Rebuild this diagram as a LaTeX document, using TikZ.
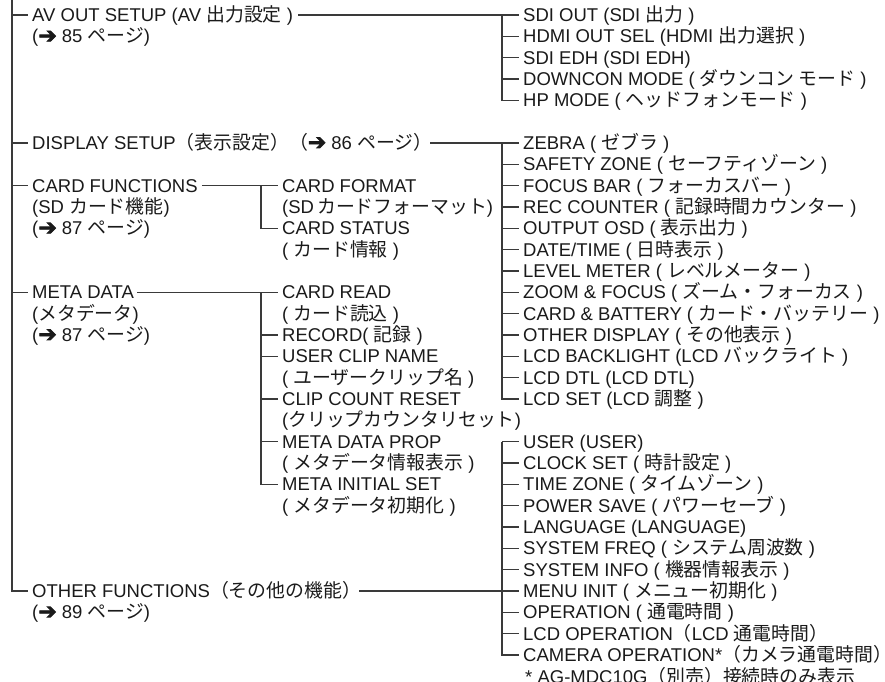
\documentclass[tikz,border=0pt]{standalone}
\usepackage{fontspec}
\setmainfont{Liberation Sans}
\newfontfamily\jp[Scale=1.02]{Noto Sans CJK JP}
\newfontfamily\dvb[FakeBold=3]{DejaVu Sans}
\newcommand\arr{{\dvb\fontsize{22}{22}\selectfont ➔}}
\newcommand\jj[1]{{\jp #1}}
\definecolor{ink}{HTML}{1A1A1A}
\definecolor{wire}{HTML}{3A3A3A}
\newcommand\rw[1]{15+21.33*#1}
\begin{document}
\begin{tikzpicture}[x=1pt,y=-1pt,
  lbl/.style={anchor=west,inner sep=0pt,text height=13.3pt,text depth=0pt,
    font=\fontsize{18.5}{21.3}\selectfont,text=ink},
  ln/.style={draw=wire,line width=1.2pt},
  ent/.style={ln,shorten >=4pt}]
\useasboundingbox (0,0) rectangle (885,681);
% ---------- left column ----------
\node[lbl] (av)  at (32,{\rw{0}}) {AV OUT SETUP (AV \jj{出力設定} )};
\node[lbl] (av2) at (32,{\rw{1}}) {(\arr{} 85 \jj{ページ})};
\node[lbl] (ds)  at (32,{\rw{6}}) {DISPLAY SETUP\jj{（表示設定）（}\arr{} 86 \jj{ページ）}};
\node[lbl] (cf)  at (32,{\rw{8}}) {CARD FUNCTIONS};
\node[lbl] (cf2) at (32,{\rw{9}}) {(SD \jj{カード機能})};
\node[lbl] (cf3) at (32,{\rw{10}}) {(\arr{} 87 \jj{ページ})};
\node[lbl] (md)  at (32,{\rw{13}}) {META DATA};
\node[lbl] (md2) at (32,{\rw{14}}) {(\jj{メタデータ})};
\node[lbl] (md3) at (32,{\rw{15}}) {(\arr{} 87 \jj{ページ})};
\node[lbl] (of)  at (32,{\rw{27}}) {OTHER FUNCTIONS\jj{（その他の機能）}};
\node[lbl] (of2) at (32,{\rw{28}}) {(\arr{} 89 \jj{ページ})};
% ---------- card / meta subtrees ----------
\node[lbl] (c1)  at (282,{\rw{8}})  {CARD FORMAT};
\node[lbl] (c1b) at (282,{\rw{9}})  {(SD\,\jj{カードフォーマット})};
\node[lbl] (c2)  at (282,{\rw{10}}) {CARD STATUS};
\node[lbl] (c2b) at (282,{\rw{11}}) {( \jj{カード情報} )};
\node[lbl] (m1)  at (282,{\rw{13}}) {CARD READ};
\node[lbl] (m1b) at (282,{\rw{14}}) {( \jj{カード読込} )};
\node[lbl] (m2)  at (282,{\rw{15}}) {RECORD( \jj{記録} )};
\node[lbl] (m3)  at (282,{\rw{16}}) {USER CLIP NAME};
\node[lbl] (m3b) at (282,{\rw{17}}) {( \jj{ユーザークリップ名} )};
\node[lbl] (m4)  at (282,{\rw{18}}) {CLIP COUNT RESET};
\node[lbl] (m4b) at (282,{\rw{19}}) {(\jj{クリップカウンタリセット})};
\node[lbl] (m5)  at (282,{\rw{20}}) {META DATA PROP};
\node[lbl] (m5b) at (282,{\rw{21}}) {( \jj{メタデータ情報表示} )};
\node[lbl] (m6)  at (282,{\rw{22}}) {META INITIAL SET};
\node[lbl] (m6b) at (282,{\rw{23}}) {( \jj{メタデータ初期化} )};
% ---------- right column ----------
\node[lbl] (a1) at (523,{\rw{0}}) {SDI OUT (SDI \jj{出力} )};
\node[lbl] (a2) at (523,{\rw{1}}) {HDMI OUT SEL (HDMI \jj{出力選択} )};
\node[lbl] (a3) at (523,{\rw{2}}) {SDI EDH (SDI EDH)};
\node[lbl] (a4) at (523,{\rw{3}}) {DOWNCON MODE ( \jj{ダウンコン モード} )};
\node[lbl] (a5) at (523,{\rw{4}}) {HP MODE ( \jj{ヘッドフォンモード} )};
\node[lbl] (d1)  at (523,{\rw{6}})  {ZEBRA ( \jj{ゼブラ} )};
\node[lbl] (d2)  at (523,{\rw{7}})  {SAFETY ZONE ( \jj{セーフティゾーン} )};
\node[lbl] (d3)  at (523,{\rw{8}})  {FOCUS BAR ( \jj{フォーカスバー} )};
\node[lbl] (d4)  at (523,{\rw{9}})  {REC COUNTER ( \jj{記録時間カウンター} )};
\node[lbl] (d5)  at (523,{\rw{10}}) {OUTPUT OSD ( \jj{表示出力} )};
\node[lbl] (d6)  at (523,{\rw{11}}) {DATE/TIME ( \jj{日時表示} )};
\node[lbl] (d7)  at (523,{\rw{12}}) {LEVEL METER ( \jj{レベルメーター} )};
\node[lbl] (d8)  at (523,{\rw{13}}) {ZOOM \& FOCUS ( \jj{ズーム・フォーカス} )};
\node[lbl] (d9)  at (523,{\rw{14}}) {CARD \& BATTERY ( \jj{カード・バッテリー} )};
\node[lbl] (d10) at (523,{\rw{15}}) {OTHER DISPLAY ( \jj{その他表示} )};
\node[lbl] (d11) at (523,{\rw{16}}) {LCD BACKLIGHT (LCD \jj{バックライト} )};
\node[lbl] (d12) at (523,{\rw{17}}) {LCD DTL (LCD DTL)};
\node[lbl] (d13) at (523,{\rw{18}}) {LCD SET (LCD \jj{調整} )};
\node[lbl] (o1)  at (523,{\rw{20}}) {USER (USER)};
\node[lbl] (o2)  at (523,{\rw{21}}) {CLOCK SET ( \jj{時計設定} )};
\node[lbl] (o3)  at (523,{\rw{22}}) {TIME ZONE ( \jj{タイムゾーン} )};
\node[lbl] (o4)  at (523,{\rw{23}}) {POWER SAVE ( \jj{パワーセーブ} )};
\node[lbl] (o5)  at (523,{\rw{24}}) {LANGUAGE (LANGUAGE)};
\node[lbl] (o6)  at (523,{\rw{25}}) {SYSTEM FREQ ( \jj{システム周波数} )};
\node[lbl] (o7)  at (523,{\rw{26}}) {SYSTEM INFO ( \jj{機器情報表示} )};
\node[lbl] (o8)  at (523,{\rw{27}}) {MENU INIT ( \jj{メニュー初期化} )};
\node[lbl] (o9)  at (523,{\rw{28}}) {OPERATION ( \jj{通電時間} )};
\node[lbl] (o10) at (523,{\rw{29}}) {LCD OPERATION\jj{（}LCD \jj{通電時間）}};
\node[lbl] (o11) at (523,{\rw{30}}) {CAMERA OPERATION*\jj{（カメラ通電時間）}};
\node[lbl] (fn)  at (525,677) {* AG-MDC10G\jj{（別売）接続時のみ表示}};
% ---------- trunk ----------
\coordinate (top) at (12,0);
\draw[ent] (top) |- (of.west);
\foreach \n in {av,ds,cf,md} \draw[ent] (top |- \n.west) -- (\n.west);
% ---------- AV OUT SETUP ----------
\coordinate (avv) at ([xshift=-21pt]a1.west);
\draw[ent] ([xshift=5pt]av.east) -- (a1.west);
\draw[ent] (avv) |- (a5.west);
\foreach \n in {a2,a3,a4} \draw[ent] (avv |- \n.west) -- (\n.west);
% ---------- DISPLAY SETUP ----------
\coordinate (dvv) at ([xshift=-21pt]d1.west);
\draw[ent] ([xshift=-2pt]ds.east) -- (d1.west);
\draw[ent] (dvv) |- (d13.west);
\foreach \n in {d2,d3,d4,d5,d6,d7,d8,d9,d10,d11,d12} \draw[ent] (dvv |- \n.west) -- (\n.west);
% ---------- CARD FUNCTIONS ----------
\coordinate (cvv) at ([xshift=-21pt]c1.west);
\draw[ent] ([xshift=4pt]cf.east) -- (c1.west);
\draw[ent] (cvv) |- (c2.west);
% ---------- META DATA ----------
\coordinate (mvv) at ([xshift=-21pt]m1.west);
\draw[ent] ([xshift=3pt]md.east) -- (m1.west);
\draw[ent] (mvv) |- (m6.west);
\foreach \n in {m2,m3,m4,m5} \draw[ent] (mvv |- \n.west) -- (\n.west);
% ---------- OTHER FUNCTIONS ----------
\coordinate (ovv) at ([xshift=-21pt]o1.west);
\draw[ent] ([xshift=-2pt]of.east) -- (o8.west);
\draw[ent] (ovv) |- (o11.west);
\foreach \n in {o1,o2,o3,o4,o5,o6,o7,o9,o10} \draw[ent] (ovv |- \n.west) -- (\n.west);
\end{tikzpicture}
\end{document}
